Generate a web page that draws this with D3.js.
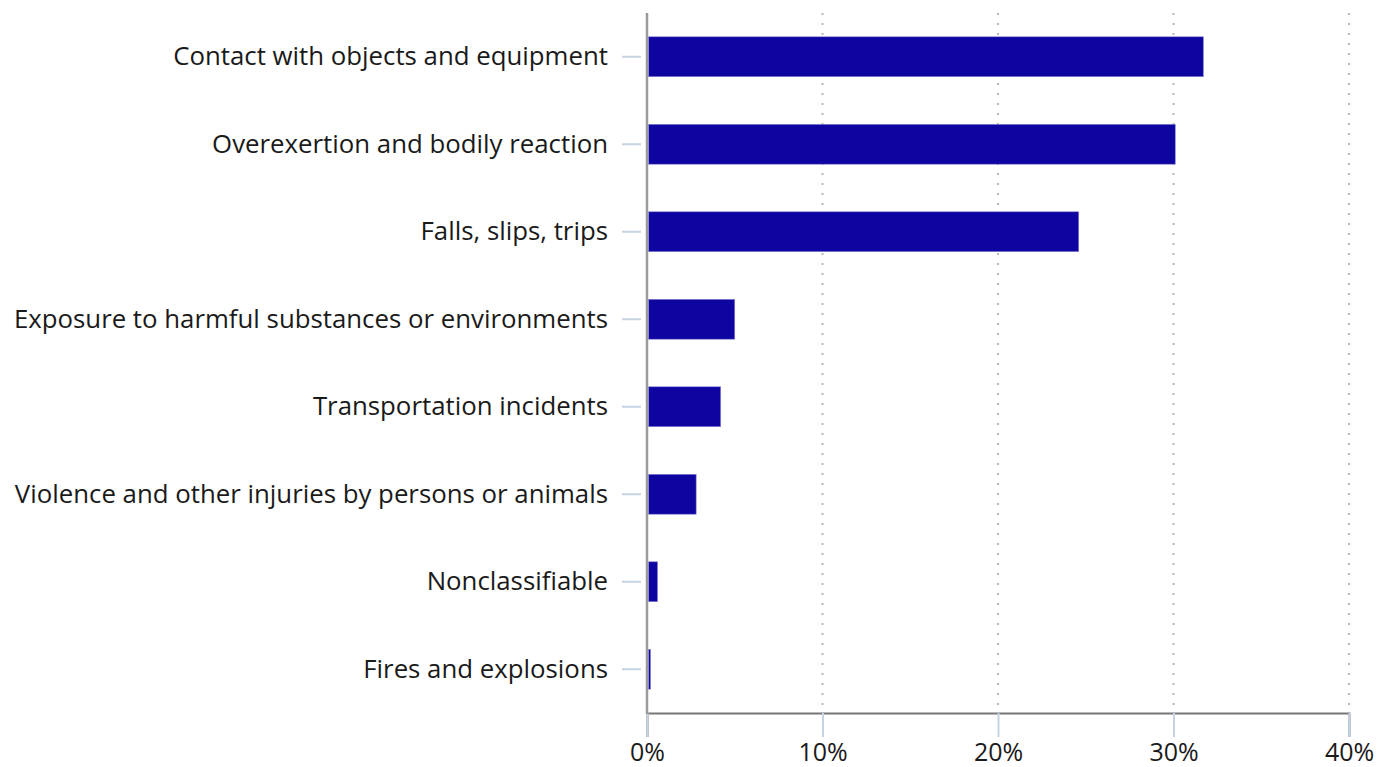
<!DOCTYPE html>
<html>
<head>
<meta charset="utf-8">
<script src="https://cdn.jsdelivr.net/npm/d3@7"></script>
<style>
  body { margin: 0; background: #fff; }
  svg text { font-family: "Open Sans", "Noto Sans", sans-serif; fill: #1a1a1a; }
</style>
</head>
<body>
<svg id="chart" width="1387" height="767"></svg>
<script>
// Share of injuries by event type
const categories = [
    'Contact with objects and equipment',
    'Overexertion and bodily reaction',
    'Falls, slips, trips',
    'Exposure to harmful substances or environments',
    'Transportation incidents',
    'Violence and other injuries by persons or animals',
    'Nonclassifiable',
    'Fires and explosions'
];
const shares = [31.7, 30.1, 24.6, 5.0, 4.2, 2.8, 0.6, 0.2];
const xTicks = [0, 10, 20, 30, 40];

const margin = { top: 13, right: 38, bottom: 54, left: 647 };
const width = 1387 - margin.left - margin.right;
const height = 767 - margin.top - margin.bottom;

const svg = d3.select('#chart');
const g = svg.append('g').attr('transform', `translate(${margin.left},${margin.top})`);

const x = d3.scaleLinear().domain([0, 40]).range([0, width]);
const y = d3.scaleBand().domain(categories).range([0, height]).paddingInner(0.544).paddingOuter(0.272);

// Dotted gridlines
g.selectAll('.grid')
    .data(xTicks.filter(d => d > 0))
    .enter().append('line')
    .attr('x1', d => x(d)).attr('x2', d => x(d))
    .attr('y1', 0).attr('y2', height)
    .attr('stroke', '#b8b8b8')
    .attr('stroke-width', 2)
    .attr('stroke-dasharray', '2,8');

// Bars
g.selectAll('.bar')
    .data(shares)
    .enter().append('rect')
    .attr('x', 1.5)
    .attr('y', (d, i) => y(categories[i]))
    .attr('width', d => Math.max(0, x(d) - 1.5))
    .attr('height', y.bandwidth())
    .attr('fill', '#0e04a0')
    .attr('stroke', '#8a86d8')
    .attr('stroke-width', 0.6);

// X axis
const xAxis = g.append('g')
    .attr('transform', `translate(0,${height})`)
    .call(d3.axisBottom(x).tickValues(xTicks).tickFormat(d => d + '%').tickSize(24).tickPadding(6));
xAxis.select('.domain').attr('stroke', '#777').attr('stroke-width', 2);
xAxis.selectAll('.tick line').attr('stroke', '#c5d3e3').attr('stroke-width', 2);
xAxis.selectAll('.tick text').attr('font-size', '25px').attr('fill', '#1a1a1a');

// Y axis
const yAxis = g.append('g')
    .call(d3.axisLeft(y).tickSize(25).tickPadding(14));
yAxis.select('.domain').remove();
yAxis.selectAll('.tick line').attr('stroke', '#c5d3e3').attr('stroke-width', 2).attr('x1', -6);
yAxis.selectAll('.tick text').attr('font-size', '25.8px').attr('fill', '#1a1a1a');

// Vertical axis line
g.append('line')
    .attr('x1', 0).attr('x2', 0)
    .attr('y1', 0).attr('y2', height + 1)
    .attr('stroke', '#9a9a9a')
    .attr('stroke-width', 2.5);
</script>
</body>
</html>
